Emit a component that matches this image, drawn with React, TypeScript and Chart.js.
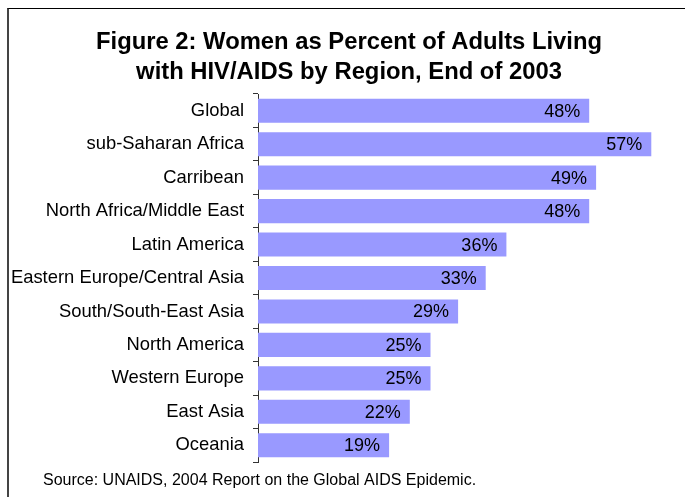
import React, { useEffect, useRef } from "react";
import { Chart, registerables } from "chart.js";

Chart.register(...registerables);

const categories = [
  "Global",
  "sub-Saharan Africa",
  "Carribean",
  "North Africa/Middle East",
  "Latin America",
  "Eastern Europe/Central Asia",
  "South/South-East Asia",
  "North America",
  "Western Europe",
  "East Asia",
  "Oceania",
];
const values = [48, 57, 49, 48, 36, 33, 29, 25, 25, 22, 19];
const titleLines = [
  "Figure 2: Women as Percent of Adults Living",
  "with HIV/AIDS by Region, End of 2003",
];
const sourceNote = "Source: UNAIDS, 2004 Report on the Global AIDS Epidemic.";
const axisMin = 0;
const axisMax = 60;

const FONT = "'Liberation Sans', Arial, Helvetica, sans-serif";

const valueLabelPlugin = {
  id: "valueLabels",
  afterDatasetsDraw(chart: any) {
    const ctx = chart.ctx;
    const meta = chart.getDatasetMeta(0);
    ctx.save();
    ctx.font = `18px ${FONT}`;
    ctx.fillStyle = "#000";
    ctx.textAlign = "right";
    ctx.textBaseline = "middle";
    meta.data.forEach((el: any, i: number) => {
      ctx.fillText(values[i] + "%", el.x - 9, el.y + 1);
    });
    ctx.restore();
  },
};

const textPlugin = {
  id: "titleAndSource",
  afterDraw(chart: any) {
    const ctx = chart.ctx;
    ctx.save();
    ctx.fillStyle = "#000";
    ctx.textBaseline = "middle";
    ctx.textAlign = "center";
    ctx.font = `bold 23.8px ${FONT}`;
    const cx = 349;
    titleLines.forEach((line, i) => {
      ctx.fillText(line, cx, 42 + i * 30);
    });
    ctx.textAlign = "left";
    ctx.font = `16px ${FONT}`;
    ctx.fillText(sourceNote, 43, chart.chartArea.bottom + 19);
    ctx.restore();
  },
};

export default function App() {
  const canvasRef = useRef<HTMLCanvasElement | null>(null);

  useEffect(() => {
    if (!canvasRef.current) return;
    const chart = new Chart(canvasRef.current, {
      type: "bar",
      data: {
        labels: categories,
        datasets: [
          {
            data: values,
            backgroundColor: "#9999FF",
            borderWidth: 0,
            categoryPercentage: 1,
            barPercentage: 0.72,
          },
        ],
      },
      options: {
        indexAxis: "y",
        responsive: false,
        animation: false,
        devicePixelRatio: 1,
        layout: { padding: { left: 0, right: 13, top: 94, bottom: 35 } },
        plugins: {
          legend: { display: false },
          tooltip: { enabled: false },
          title: { display: false },
        },
        scales: {
          x: { display: false, min: axisMin, max: axisMax },
          y: {
            grid: {
              display: true,
              drawOnChartArea: false,
              drawTicks: true,
              tickLength: 5,
              offset: true,
              color: "#333",
            },
            border: { display: true, color: "#333", width: 1 },
            ticks: {
              color: "#000",
              font: { family: FONT, size: 18.4 },
              padding: 9,
            },
            afterFit(scale: any) {
              scale.width = 258;
            },
          },
        },
      },
      plugins: [valueLabelPlugin, textPlugin],
    } as any);
    return () => chart.destroy();
  }, []);

  return (
    <div style={{ position: "fixed", left: 0, top: 0, width: 685, height: 497, background: "#fff" }}>
      <div
        style={{
          position: "absolute",
          left: 7,
          top: 8,
          width: 678,
          height: 489,
          borderTop: "1px solid #000",
          borderLeft: "2px solid #444",
          boxSizing: "border-box",
        }}
      />
      <canvas
        ref={canvasRef}
        width={685}
        height={497}
        style={{ position: "absolute", left: 0, top: 0, width: 685, height: 497 }}
      />
    </div>
  );
}
